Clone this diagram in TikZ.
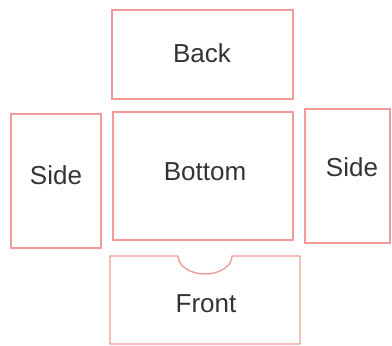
\documentclass[tikz,border=0pt]{standalone}
\usepackage{fontspec}
\setmainfont{Liberation Sans}
\definecolor{panel}{HTML}{F29A98}
\definecolor{txt}{HTML}{333333}
\begin{document}
\begin{tikzpicture}[x=1pt,y=-1pt,
  panelbox/.style={draw=panel,line width=1.4pt},
  lbl/.style={text=txt,font=\fontsize{26}{30}\selectfont,inner sep=0pt}]
\useasboundingbox (0,0) rectangle (392,346);
\draw[panelbox] (112,10) rectangle (293,99);
\node[lbl] (back) at (202,53) {Back};
\draw[panelbox] (11,114) rectangle (101,248);
\node[lbl] (lside) at (56,175) {Side};
\draw[panelbox] (113,112) rectangle (293,240);
\node[lbl] (bottom) at (205,172) {Bottom};
\draw[panelbox] (305,109) rectangle (390,243);
\node[lbl] (rside) at (352,167) {Side};
\draw[panelbox] (178,256) -- (110,256) -- (110,344) -- (300,344) -- (300,256) -- (232,256)
  arc[start angle=0,end angle=180,x radius=27,y radius=18];
\node[lbl] (front) at (206,304) {Front};
\end{tikzpicture}
\end{document}
